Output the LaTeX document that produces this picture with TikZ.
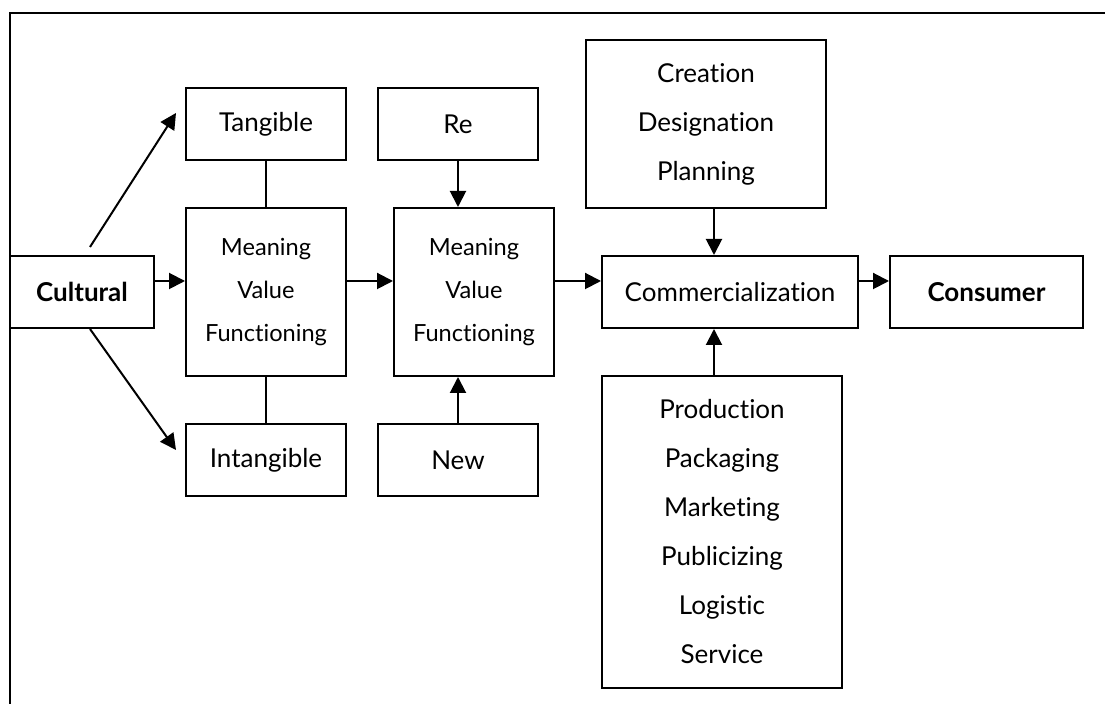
\documentclass[tikz,border=0pt]{standalone}
\usepackage{fontspec}
\setmainfont{Lato}[Ligatures = NoCommon]
\usetikzlibrary{arrows.meta, calc}

\tikzset{
  box/.style = {draw, line width = 1pt, inner sep = 0pt, align = center, font = \fontsize{13}{24.5}\selectfont},
  small/.style = {font = \fontsize{11.8}{21.5}\selectfont},
  arr/.style = {line width = 1pt, -{Triangle[length = 8pt, width = 8pt]}}
}

\begin{document}
\begin{tikzpicture}[x = 0.5pt, y = -0.5pt]
		\useasboundingbox (0,0) rectangle (1105,704);
		
		\draw [line width = 1.25pt] (10,704) -- (10,13) -- (1105,13);
		
		\node [box, minimum width = 72pt, minimum height = 36pt] (cult) at (82,292) {\bfseries Cultural};
		
		\node [box, minimum width = 80pt, minimum height = 36pt] (tang) at (266,124) {Tangible};
		\node [box, small, minimum width = 80pt, minimum height = 84pt] (mean1) at (266,292) {Meaning\\Value\\Functioning};
		\node [box, minimum width = 80pt, minimum height = 36pt] (intang) at (266,460) {Intangible};
		
		\node [box, minimum width = 80pt, minimum height = 36pt] (re) at (458,124) {Re};
		\node [box, small, minimum width = 80pt, minimum height = 84pt] (mean2) at (474,292) {Meaning\\Value\\Functioning};
		\node [box, minimum width = 80pt, minimum height = 36pt] (new) at (458,460) {New};
		
		\node [box, minimum width = 120pt, minimum height = 84pt] (creat) at (706,124) {Creation\\Designation\\Planning};
		\node [box, minimum width = 128pt, minimum height = 36pt] (comm) at (730,292) {Commercialization};
		\node [box, minimum width = 120pt, minimum height = 156pt] (prod) at (722,532) {Production\\Packaging\\Marketing\\Publicizing\\Logistic\\Service};
		
		\node [box, minimum width = 96.5pt, minimum height = 36pt] (cons) at (986.5,292) {\bfseries Consumer};
		
		% cultural branches
		\draw [arr] ($(cult.north) + (8,-8)$) -- ($(tang.west) + (-9,-11)$);
		\draw [arr] ($(cult.south) + (8,0)$) -- ($(intang.west) + (-9,-10)$);
		
		\draw [line width = 1pt] (tang) -- (mean1);
		\draw [line width = 1pt] (intang) -- (mean1);
		
		% main line
		\draw [arr] ($(cult.east) + (0,-11)$) -- ($(mean1.west) + (0,-11)$);
		\draw [arr] ($(mean1.east) + (0,-11)$) -- ($(mean2.west) + (0,-11)$);
		\draw [arr] ($(mean2.east) + (0,-11)$) -- ($(comm.west) + (0,-11)$);
		\draw [arr] ($(comm.east) + (0,-11)$) -- ($(cons.west) + (0,-11)$);
		
		\draw [arr] (re.south) -- (re.south |- mean2.north);
		\draw [arr] (new.north) -- (new.north |- mean2.south);
		
		\draw [arr] ($(creat.south) + (8,0)$) coordinate (c1) -- (c1 |- comm.north);
		\draw [arr] ($(prod.north) + (-8,0)$) coordinate (p1) -- (p1 |- comm.south);
	\end{tikzpicture}
\end{document}
